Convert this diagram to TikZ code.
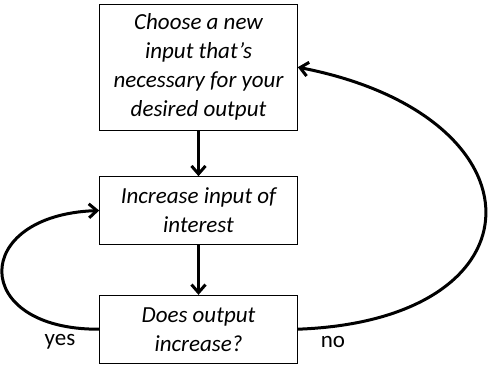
\documentclass[tikz,border=0pt]{standalone}
\usepackage{fontspec}
\setmainfont{Carlito}
\usetikzlibrary{arrows.meta}
\begin{document}
\begin{tikzpicture}[x=1pt,y=-1pt,
  box/.style={draw=black,line width=1pt,minimum width=197.6pt,inner sep=0pt,
    align=center,font=\fontsize{23}{29}\selectfont\itshape},
  flow/.style={line width=3pt,-{Straight Barb[length=8pt,width=14pt,line width=3pt]}},
  lbl/.style={font=\fontsize{23}{29}\selectfont}]
\useasboundingbox (0,0) rectangle (490,373);
\node[box,minimum height=125.7pt] (t) at (198.5,67.2) {Choose a new\\input that’s\\necessary for your\\desired output};
\node[box,minimum height=67.6pt] (m) at (198.5,210.5) {Increase input of\\interest};
\node[box,minimum height=67.7pt] (b) at (198.5,329.2) {Does output\\increase?};
\draw[flow] (t) -- (m);
\draw[flow] (m) -- (b);
\draw[flow] (b.west) .. controls (-30,330) and (-30,215) .. (m.west);
\draw[flow] (b.east) .. controls (548,320) and (548,116) .. (t.east);
\node[lbl] (yes) at (60,342) {yes};
\node[lbl] (no) at (333,342) {no};
\end{tikzpicture}
\end{document}
